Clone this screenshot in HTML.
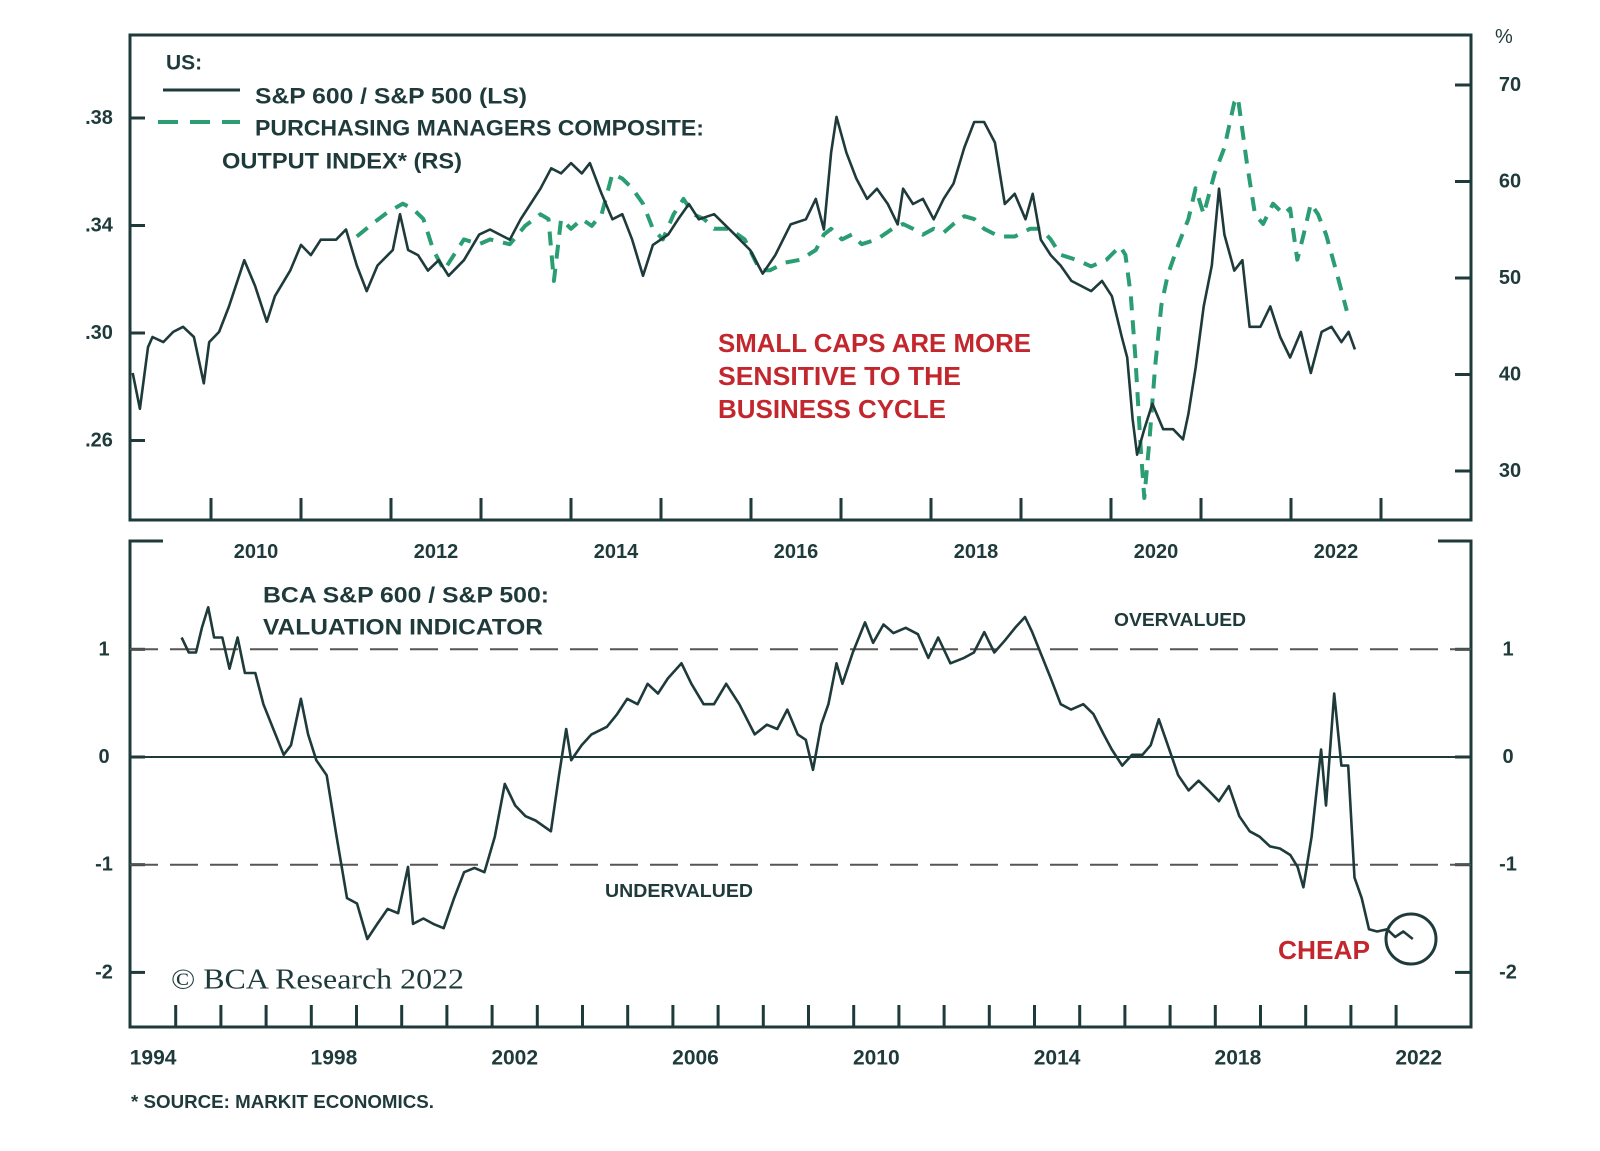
<!DOCTYPE html>
<html><head><meta charset="utf-8"><style>
html,body{margin:0;padding:0;background:#fff;}
svg{display:block;font-family:"Liberation Sans",sans-serif;}
</style></head><body>
<svg id="chart" width="1600" height="1151" viewBox="0 0 1600 1151" xmlns="http://www.w3.org/2000/svg">
<g id="frame"></g>
<g id="marks"></g>
<g id="txt" fill="#1e3a3a" font-weight="bold">
  <text x="166" y="63" font-size="21" dominant-baseline="central">US:</text>
  <line x1="163" y1="90" x2="240" y2="90" stroke="#1e3a3a" stroke-width="3"/>
  <text x="255" y="96" font-size="22" textLength="272" lengthAdjust="spacingAndGlyphs" dominant-baseline="central">S&amp;P 600 / S&amp;P 500 (LS)</text>
  <line x1="158" y1="122" x2="240" y2="122" stroke="#2a9d73" stroke-width="4" stroke-dasharray="20 12"/>
  <text x="255" y="128" font-size="22" textLength="449" lengthAdjust="spacingAndGlyphs" dominant-baseline="central">PURCHASING MANAGERS COMPOSITE:</text>
  <text x="222" y="161" font-size="22" textLength="240" lengthAdjust="spacingAndGlyphs" dominant-baseline="central">OUTPUT INDEX* (RS)</text>
  <g fill="#c3272e" font-size="26">
    <text x="718" y="343" textLength="313" lengthAdjust="spacingAndGlyphs" dominant-baseline="central">SMALL CAPS ARE MORE</text>
    <text x="718" y="376" textLength="243" lengthAdjust="spacingAndGlyphs" dominant-baseline="central">SENSITIVE TO THE</text>
    <text x="718" y="409" textLength="228" lengthAdjust="spacingAndGlyphs" dominant-baseline="central">BUSINESS CYCLE</text>
  </g>
  <text x="263" y="595" font-size="22" textLength="286" lengthAdjust="spacingAndGlyphs" dominant-baseline="central">BCA S&amp;P 600 / S&amp;P 500:</text>
  <text x="263" y="627" font-size="22" textLength="280" lengthAdjust="spacingAndGlyphs" dominant-baseline="central">VALUATION INDICATOR</text>
  <text x="1114" y="620" font-size="18" textLength="132" lengthAdjust="spacingAndGlyphs" dominant-baseline="central">OVERVALUED</text>
  <text x="605" y="891" font-size="18" textLength="148" lengthAdjust="spacingAndGlyphs" dominant-baseline="central">UNDERVALUED</text>
  <text x="1278" y="950" font-size="26" fill="#c3272e" textLength="92" lengthAdjust="spacingAndGlyphs" dominant-baseline="central">CHEAP</text>
  <circle cx="1411" cy="939" r="25" fill="none" stroke="#1e3a3a" stroke-width="3"/>
  <text x="171" y="980" font-size="28" font-weight="normal" font-family="Liberation Serif,serif" textLength="293" lengthAdjust="spacingAndGlyphs" dominant-baseline="central">© BCA Research 2022</text>
  <text x="131" y="1102" font-size="18" textLength="303" lengthAdjust="spacingAndGlyphs" dominant-baseline="central">* SOURCE: MARKIT ECONOMICS.</text>
  <text x="1495" y="37" font-size="20" font-weight="normal" dominant-baseline="central">%</text>
</g>
</svg>
<script>
const ratioYears=[2009.13,2009.21,2009.30,2009.35,2009.47,2009.58,2009.69,2009.81,2009.92,2009.98,2010.09,2010.20,2010.37,2010.49,2010.62,2010.71,2010.88,2011.00,2011.11,2011.22,2011.39,2011.50,2011.62,2011.73,2011.85,2012.02,2012.10,2012.19,2012.30,2012.41,2012.53,2012.64,2012.81,2012.98,2013.10,2013.21,2013.32,2013.44,2013.55,2013.66,2013.78,2013.89,2014.00,2014.12,2014.21,2014.34,2014.46,2014.57,2014.68,2014.80,2014.91,2015.08,2015.19,2015.31,2015.42,2015.59,2015.82,2015.99,2016.13,2016.27,2016.44,2016.61,2016.72,2016.81,2016.89,2016.95,2017.06,2017.17,2017.29,2017.40,2017.52,2017.63,2017.69,2017.80,2017.91,2018.03,2018.14,2018.25,2018.37,2018.48,2018.59,2018.71,2018.82,2018.93,2019.05,2019.13,2019.22,2019.33,2019.44,2019.56,2019.67,2019.78,2019.90,2020.01,2020.12,2020.18,2020.24,2020.29,2020.37,2020.46,2020.58,2020.69,2020.80,2020.86,2020.94,2021.03,2021.12,2021.20,2021.26,2021.37,2021.46,2021.54,2021.66,2021.77,2021.88,2021.99,2022.11,2022.22,2022.34,2022.45,2022.56,2022.64,2022.71];
const ratioValues=[.2851,.2718,.2947,.2985,.2966,.3004,.3023,.2985,.2813,.2966,.3004,.3099,.3271,.3175,.3042,.3137,.3232,.3328,.3290,.3347,.3347,.3385,.3251,.3156,.3251,.3309,.3442,.3309,.3290,.3232,.3271,.3213,.3271,.3366,.3385,.3366,.3347,.3423,.3480,.3537,.3613,.3594,.3632,.3594,.3632,.3518,.3423,.3442,.3347,.3213,.3328,.3366,.3423,.3480,.3423,.3442,.3366,.3309,.3221,.3290,.3404,.3423,.3499,.3385,.3671,.3804,.3671,.3575,.3499,.3537,.3480,.3404,.3537,.3480,.3499,.3423,.3499,.3556,.3690,.3785,.3785,.3709,.3480,.3518,.3423,.3518,.3347,.3290,.3251,.3194,.3175,.3156,.3194,.3137,.2985,.2909,.2680,.2547,.2642,.2737,.2642,.2642,.2604,.2699,.2870,.3099,.3251,.3537,.3366,.3232,.3271,.3023,.3023,.3099,.2985,.2909,.3004,.2851,.3004,.3023,.2966,.3004,.2939];
const pmiYears=[2011.62,2011.79,2011.96,2012.13,2012.24,2012.36,2012.47,2012.59,2012.70,2012.81,2012.98,2013.10,2013.32,2013.49,2013.66,2013.75,2013.81,2013.89,2014.00,2014.12,2014.23,2014.34,2014.46,2014.57,2014.68,2014.80,2014.91,2015.02,2015.14,2015.25,2015.36,2015.48,2015.59,2015.76,2015.93,2016.10,2016.21,2016.38,2016.55,2016.72,2016.81,2016.89,2017.01,2017.12,2017.23,2017.40,2017.57,2017.69,2017.80,2017.91,2018.03,2018.14,2018.25,2018.37,2018.48,2018.59,2018.76,2018.93,2019.10,2019.22,2019.33,2019.44,2019.61,2019.78,2019.95,2020.10,2020.16,2020.22,2020.27,2020.33,2020.37,2020.43,2020.49,2020.56,2020.63,2020.75,2020.86,2020.94,2021.03,2021.15,2021.26,2021.37,2021.41,2021.51,2021.60,2021.69,2021.80,2021.92,2021.99,2022.07,2022.14,2022.22,2022.30,2022.39,2022.50,2022.62];
const pmiValues=[54.3,55.6,56.8,57.7,57.2,56.1,52.9,50.8,52.4,54.0,53.5,54.0,53.5,55.4,56.6,56.1,49.7,56.1,55.1,56.1,55.4,56.6,60.8,60.3,59.3,57.7,55.1,54.0,56.6,58.2,56.6,56.1,55.1,55.1,54.0,50.8,50.8,51.6,51.9,52.9,54.5,55.1,54.0,54.5,53.5,54.0,55.1,55.6,55.1,54.5,55.1,54.7,55.6,56.4,56.1,55.1,54.3,54.3,55.1,55.1,54.0,52.4,51.9,51.2,51.9,53.3,52.4,48.2,41.9,32.4,27.2,33.5,40.8,47.2,50.3,53.5,56.1,59.3,56.6,60.8,63.5,68.2,68.7,61.9,56.6,55.6,57.7,56.6,57.2,51.9,54.5,57.7,56.6,54.5,50.8,46.6];
const valYears=[1995.13,1995.29,1995.45,1995.58,1995.72,1995.85,1996.03,1996.19,1996.37,1996.53,1996.76,1996.94,1997.16,1997.39,1997.55,1997.77,1997.93,1998.11,1998.34,1998.56,1998.79,1999.01,1999.24,1999.46,1999.69,1999.92,2000.14,2000.25,2000.48,2000.70,2000.93,2001.16,2001.38,2001.61,2001.83,2002.06,2002.28,2002.51,2002.74,2002.96,2003.30,2003.48,2003.64,2003.75,2003.98,2004.20,2004.54,2004.77,2004.99,2005.22,2005.44,2005.67,2005.89,2006.19,2006.41,2006.68,2006.91,2007.18,2007.47,2007.81,2008.08,2008.31,2008.53,2008.76,2008.94,2009.10,2009.28,2009.44,2009.62,2009.75,2009.98,2010.25,2010.43,2010.66,2010.88,2011.15,2011.42,2011.65,2011.87,2012.14,2012.44,2012.66,2012.89,2013.11,2013.34,2013.57,2013.79,2013.95,2014.13,2014.36,2014.58,2014.81,2015.08,2015.30,2015.53,2015.71,2015.94,2016.16,2016.39,2016.57,2016.75,2016.95,2017.18,2017.41,2017.63,2017.85,2018.08,2018.30,2018.53,2018.76,2018.98,2019.21,2019.43,2019.66,2019.82,2019.95,2020.13,2020.34,2020.45,2020.63,2020.79,2020.94,2021.08,2021.24,2021.40,2021.58,2021.80,2021.98,2022.16,2022.37];
const valValues=[1.11,0.97,0.97,1.20,1.39,1.11,1.11,0.82,1.11,0.78,0.78,0.49,0.26,0.02,0.11,0.54,0.21,-0.03,-0.17,-0.74,-1.31,-1.36,-1.69,-1.55,-1.41,-1.45,-1.02,-1.55,-1.50,-1.55,-1.59,-1.31,-1.07,-1.03,-1.07,-0.74,-0.25,-0.45,-0.55,-0.59,-0.69,-0.17,0.26,-0.03,0.11,0.21,0.28,0.40,0.54,0.49,0.68,0.59,0.73,0.87,0.68,0.49,0.49,0.68,0.49,0.21,0.30,0.26,0.44,0.21,0.16,-0.12,0.30,0.49,0.87,0.68,0.97,1.25,1.06,1.23,1.15,1.20,1.14,0.92,1.11,0.87,0.92,0.97,1.16,0.97,1.08,1.20,1.30,1.16,0.97,0.73,0.49,0.44,0.49,0.40,0.21,0.07,-0.08,0.02,0.02,0.11,0.35,0.11,-0.17,-0.31,-0.22,-0.31,-0.41,-0.27,-0.55,-0.69,-0.74,-0.83,-0.85,-0.91,-1.02,-1.21,-0.74,0.07,-0.45,0.59,-0.08,-0.08,-1.12,-1.31,-1.60,-1.62,-1.60,-1.67,-1.62,-1.69];
const topXLabels=["2010","2012","2014","2016","2018","2020","2022"];
const topLeftTicks=[".38",".34",".30",".26"];
const topRightTicks=["70","60","50","40","30"];
const botXLabels=["1994","1998","2002","2006","2010","2014","2018","2022"];
const botTicks=["1","0","-1","-2"];

const NS="http://www.w3.org/2000/svg";
const C="#1e3a3a";
const tx=y=>211+(y-2010)*90.0;
const tyL=v=>333-(v-0.30)/0.04*107.5;
const tyR=p=>278-(p-50)*9.65;
const bx=y=>130.5+(y-1994)*45.2;
const by=v=>757-v*107.7;
const frame=document.getElementById('frame');
const marks=document.getElementById('marks');
function mk(tag,at,parent){const e=document.createElementNS(NS,tag);for(const k in at)e.setAttribute(k,at[k]);parent.appendChild(e);return e;}
function ln(x1,y1,x2,y2,w,parent,extra){const e=mk('line',Object.assign({x1,y1,x2,y2,stroke:C,'stroke-width':w},extra||{}),parent);return e;}
function tt(x,y,s,size,anchor,parent){const e=mk('text',{x,y,'font-size':size,'text-anchor':anchor,'dominant-baseline':'central',fill:C,'font-weight':'bold'},parent);e.textContent=s;return e;}

// top frame
let r=mk('rect',{x:130,y:35,width:1341,height:485,fill:'none',stroke:C,'stroke-width':3},frame);


// bottom frame
let bf=mk('path',{d:'M163 541 H130 V1027 H1471 V541 H1438',fill:'none',stroke:C,'stroke-width':3},frame);



// top x ticks
for(let y=2010;y<=2023;y++){const t=ln(tx(y),498,tx(y),520,3,frame);

}
topXLabels.forEach(s=>{const t=tt(tx(+s+0.5),552,s,20,'middle',frame);

});
topLeftTicks.forEach(s=>{const v=parseFloat('0'+s);ln(130,tyL(v),145,tyL(v),3,frame);const t=tt(99,tyL(v),s,20,'middle',frame);

});
topRightTicks.forEach(s=>{const v=+s;ln(1455,tyR(v),1471,tyR(v),3,frame);const t=tt(1510,tyR(v),s,20,'middle',frame);

});

// bottom ticks
for(let y=1995;y<=2022;y++){const t=ln(bx(y),1005,bx(y),1027,3,frame);

}
botXLabels.forEach(s=>{const t=tt(bx(+s+0.5),1058,s,21,'middle',frame);

});
botTicks.forEach(s=>{const v=+s;ln(130,by(v),145,by(v),3,frame);ln(1455,by(v),1471,by(v),3,frame);
const a=tt(104,by(v),s,20,'middle',frame);


const b=tt(1508,by(v),s,20,'middle',frame);

});
// reference lines
const ov=ln(130,by(1),1471,by(1),2,frame,{stroke:'#555','stroke-dasharray':'28 12'});


const un=ln(130,by(-1),1471,by(-1),2,frame,{stroke:'#555','stroke-dasharray':'28 12'});


const zl=ln(130,by(0),1471,by(0),2,frame);



function path(xs,ys,fx,fy){return xs.map((x,i)=>(i?'L':'M')+fx(x).toFixed(1)+' '+fy(ys[i]).toFixed(1)).join(' ');}
const p1=mk('path',{d:path(pmiYears,pmiValues,tx,tyR),fill:'none',stroke:'#2a9d73','stroke-width':4,'stroke-dasharray':'14 10','stroke-linejoin':'round'},marks);


const p2=mk('path',{d:path(ratioYears,ratioValues,tx,tyL),fill:'none',stroke:C,'stroke-width':2.6,'stroke-linejoin':'round'},marks);


const p3=mk('path',{d:path(valYears,valValues,bx,by),fill:'none',stroke:C,'stroke-width':2.6,'stroke-linejoin':'round'},marks);


</script>
</body></html>
